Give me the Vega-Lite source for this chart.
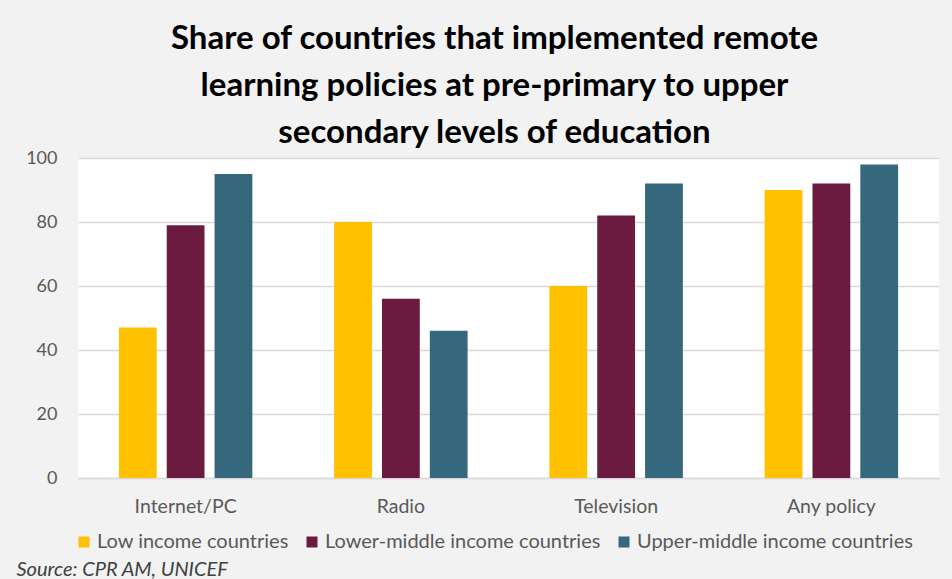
{
  "$schema": "https://vega.github.io/schema/vega-lite/v6.json",
  "width": 861,
  "height": 320,
  "autosize": {"type": "none"},
  "padding": {"left": 78, "top": 158, "right": 13, "bottom": 101},
  "background": "#F2F2F2",
  "title": {
    "text": ["Share of countries that implemented remote", "learning policies at pre-primary to upper", "secondary levels of education"],
    "font": "Lato",
    "fontSize": 33,
    "fontWeight": "bold",
    "color": "#000000",
    "lineHeight": 47,
    "anchor": "middle",
    "frame": "group",
    "baseline": "alphabetic",
    "offset": -27,
    "dx": -14
  },
  "config": {
    "view": {"fill": "#FFFFFF", "stroke": null},
    "font": "Lato"
  },
  "data": {
    "values": [
      {"type": "Internet/PC", "group": "Low income countries", "value": 47},
      {"type": "Internet/PC", "group": "Lower-middle income countries", "value": 79},
      {"type": "Internet/PC", "group": "Upper-middle income countries", "value": 95},
      {"type": "Radio", "group": "Low income countries", "value": 80},
      {"type": "Radio", "group": "Lower-middle income countries", "value": 56},
      {"type": "Radio", "group": "Upper-middle income countries", "value": 46},
      {"type": "Television", "group": "Low income countries", "value": 60},
      {"type": "Television", "group": "Lower-middle income countries", "value": 82},
      {"type": "Television", "group": "Upper-middle income countries", "value": 92},
      {"type": "Any policy", "group": "Low income countries", "value": 90},
      {"type": "Any policy", "group": "Lower-middle income countries", "value": 92},
      {"type": "Any policy", "group": "Upper-middle income countries", "value": 98}
    ]
  },
  "mark": {"type": "bar"},
  "encoding": {
    "x": {
      "field": "type",
      "type": "nominal",
      "sort": null,
      "scale": {"paddingInner": 0.38, "paddingOuter": 0.19},
      "axis": {
        "title": "Source: CPR AM, UNICEF",
        "titleAnchor": "start",
        "titleAlign": "left",
        "titleBaseline": "alphabetic",
        "titleX": -62,
        "titleY": 97,
        "titleFont": "Lato",
        "titleFontSize": 20,
        "titleFontStyle": "italic",
        "titleFontWeight": "normal",
        "titleColor": "#404040",
        "labelAngle": 0,
        "labelFontSize": 19.5,
        "labelColor": "#595959",
        "labelPadding": 19,
        "ticks": false,
        "domain": true,
        "domainColor": "#D9D9D9",
        "domainWidth": 1.5,
        "grid": false
      }
    },
    "xOffset": {
      "field": "group",
      "type": "nominal",
      "sort": null,
      "scale": {"paddingInner": 0.21, "paddingOuter": 0}
    },
    "y": {
      "field": "value",
      "type": "quantitative",
      "scale": {"domain": [0, 100], "nice": false},
      "axis": {
        "title": null,
        "values": [0, 20, 40, 60, 80, 100],
        "labelFontSize": 18,
        "labelColor": "#595959",
        "labelPadding": 21,
        "ticks": false,
        "domain": false,
        "grid": true,
        "gridColor": "#D9D9D9",
        "gridWidth": 1.5
      }
    },
    "color": {
      "field": "group",
      "type": "nominal",
      "sort": null,
      "scale": {"range": ["#FFC000", "#6B1A40", "#35677D"]},
      "legend": {
        "title": null,
        "orient": "none",
        "legendX": -4,
        "legendY": 374,
        "direction": "horizontal",
        "columns": 3,
        "columnPadding": 13,
        "symbolType": "square",
        "symbolSize": 121,
        "symbolStrokeWidth": 0,
        "labelFontSize": 20,
        "labelColor": "#595959",
        "labelOffset": 3,
        "labelLimit": 400
      }
    }
  }
}
